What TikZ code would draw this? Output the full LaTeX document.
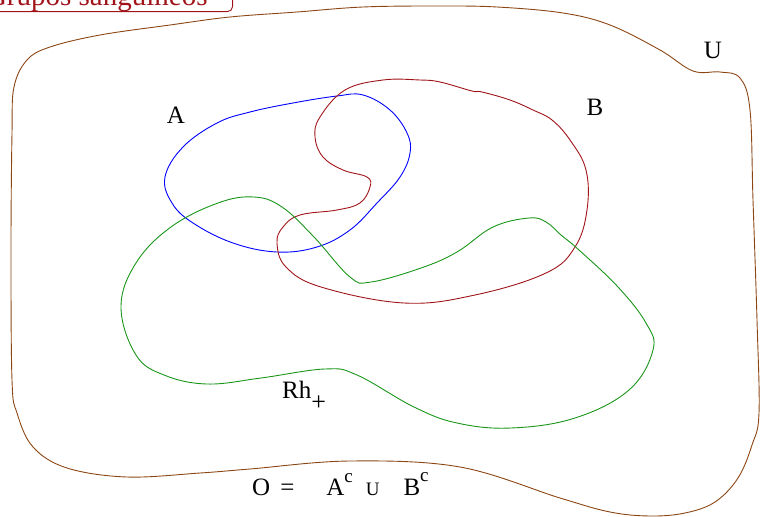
\documentclass[tikz,border=0pt]{standalone}
\usepackage{fontspec}
\setmainfont{Liberation Serif}
\definecolor{marronU}{RGB}{140,70,20}
\definecolor{rojoB}{RGB}{160,20,25}
\definecolor{verdeRh}{RGB}{25,150,25}
\tikzset{
  conj/.style={line width=0.9pt},
  etiq/.style={font=\fontsize{25}{28}\selectfont,inner sep=0pt},
  titulo/.style={draw=rojoB,text=rojoB,rounded corners=5pt,font=\fontsize{29}{32}\selectfont,inner xsep=25pt,inner ysep=0pt,line width=0.9pt}
}
\begin{document}
\begin{tikzpicture}[x=1pt,y=-1pt]
\useasboundingbox (0,0) rectangle (761,517);
% titulo
\node[titulo,anchor=south east] (tit) at (233,12) {Grupos sanguíneos};
% universo
\draw[conj,marronU] plot[smooth cycle,tension=0.6] coordinates {(12,133) (14,87) (27,60) (50,47) (100,35) (170,25) (230,17) (297,12) (363,7) (437,6) (497,7) (563,13) (610,25) (660,50) (693,71) (720,72) (740,78) (750,110) (753,200) (757,320) (759,413) (752,445) (738,478) (715,502) (685,513) (650,516) (610,512) (560,498) (460,467) (350,461) (250,469) (200,473) (127,477) (67,468) (33,447) (17,413) (12,380) (11,250)};
% conjunto A
\draw[conj,blue] plot[smooth cycle,tension=0.65] coordinates {(165,177) (183,147) (217,123) (250,112) (293,103) (337,96) (363,95) (390,110) (407,133) (410,153) (400,177) (377,203) (350,230) (317,247) (277,252) (233,243) (193,223) (172,203)};
% conjunto B
\draw[conj,rojoB] plot[smooth cycle,tension=0.65] coordinates {(320,117) (315,137) (323,157) (343,170) (367,177) (370,187) (360,203) (337,210) (300,215) (283,227) (277,243) (286,267) (321,287) (404,303) (475,295) (546,273) (575,247) (587,210) (586,170) (570,140) (552,120) (533,110) (510,100) (482,92) (472,91) (440,82) (420,80) (383,80) (345,90)};
% conjunto Rh+
\draw[conj,verdeRh] plot[smooth cycle,tension=0.65] coordinates {(121,307) (136,355) (164,375) (207,384) (261,378) (325,369) (357,375) (414,407) (457,423) (511,428) (575,418) (629,390) (653,350) (646,323) (618,287) (579,250) (561,235) (546,222) (529,218) (493,227) (457,252) (421,268) (371,282) (350,277) (314,237) (282,207) (254,197) (218,203) (171,227) (136,263)};
% etiquetas
\node[etiq] (lA) at (176,115) {A};
\node[etiq] (lB) at (595,107) {B};
\node[etiq] (lU) at (713,50) {U};
\node[etiq,anchor=base west] (lRh) at (282,398) {Rh\raisebox{-12pt}{\fontsize{26}{26}\selectfont +}};
\node[etiq,anchor=base west] (form) at (252,495) {O\hspace{10pt}=\hspace{32pt}A\raisebox{13pt}{\fontsize{19}{19}\selectfont c}\hspace{13pt}{\fontsize{19}{19}\selectfont U}\hspace{24pt}B\raisebox{14pt}{\fontsize{19}{19}\selectfont c}};
\end{tikzpicture}
\end{document}
